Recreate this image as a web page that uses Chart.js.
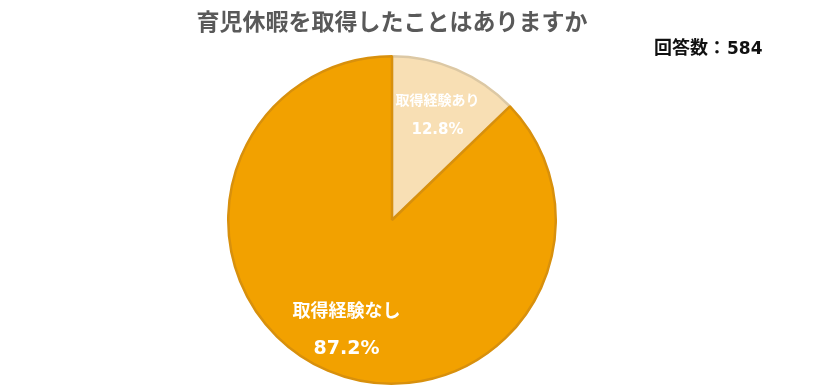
<!DOCTYPE html>
<html>
<head>
<meta charset="utf-8">
<script src="https://cdn.jsdelivr.net/npm/chart.js@4"></script>
<style>
  html, body { margin: 0; padding: 0; background: #fff; }
  #wrap { width: 821px; height: 390px; }
</style>
</head>
<body>
<div id="wrap"><canvas id="pieChart" width="821" height="390"></canvas></div>
<script>
const categories = ['取得経験あり', '取得経験なし'];
const shares = [12.8, 87.2];
const chartTitle = '育児休暇を取得したことはありますか';
const responseCount = '回答数：584';

const fillColors = ['#F8DFB4', '#F2A100'];
const edgeColors = ['#DCC8A4', '#D8900C'];
const labelSizes = [14, 18];

const fontFamily = '"Noto Sans CJK JP", "Noto Sans", sans-serif';
const mixedFamily = '"DejaVu Sans", "Noto Sans CJK JP", sans-serif';

// draws title, response count and slice labels
const textPlugin = {
    id: 'textPlugin',
    afterDraw(chart) {
        const ctx = chart.ctx;
        ctx.save();
        ctx.textAlign = 'center';
        ctx.textBaseline = 'middle';

        ctx.fillStyle = '#595959';
        ctx.font = 'bold 23px ' + fontFamily;
        ctx.fillText(chartTitle, 392, 21);

        // response count, shared baseline for both fonts
        ctx.fillStyle = '#111';
        ctx.textAlign = 'left';
        ctx.textBaseline = 'alphabetic';
        const parts = responseCount.split('：');
        const head = parts[0] + '：';
        ctx.font = 'bold 18px ' + fontFamily;
        ctx.fillText(head, 654, 54);
        const w = ctx.measureText(head).width;
        ctx.font = 'bold 17px ' + mixedFamily;
        ctx.fillText(parts[1], 654 + w + 1, 54);

        ctx.textAlign = 'center';
        ctx.textBaseline = 'middle';
        ctx.fillStyle = '#fff';
        const meta = chart.getDatasetMeta(0);
        meta.data.forEach((arc, i) => {
            const p = arc.getProps(['x', 'y', 'startAngle', 'endAngle', 'outerRadius']);
            const mid = (p.startAngle + p.endAngle) / 2;
            const r = p.outerRadius * 0.71;
            const cx = p.x + Math.cos(mid) * r;
            const cy = p.y + Math.sin(mid) * r;
            const size = labelSizes[i];
            ctx.font = 'bold ' + size + 'px ' + fontFamily;
            ctx.fillText(categories[i], cx, cy - size * 0.95);
            ctx.font = 'bold ' + (size + 1) + 'px ' + mixedFamily;
            ctx.fillText(shares[i].toFixed(1) + '%', cx, cy + size * 1.2);
        });
        ctx.restore();
    }
};

new Chart(document.getElementById('pieChart').getContext('2d'), {
    type: 'pie',
    data: {
        labels: categories,
        datasets: [{
            data: shares,
            backgroundColor: fillColors,
            borderColor: edgeColors,
            borderWidth: 2.5
        }]
    },
    options: {
        responsive: false,
        animation: false,
        layout: {
            padding: { top: 55, bottom: 5, left: 0, right: 37 }
        },
        plugins: {
            legend: { display: false },
            title: { display: false },
            tooltip: { enabled: false }
        }
    },
    plugins: [textPlugin]
});
</script>
</body>
</html>
